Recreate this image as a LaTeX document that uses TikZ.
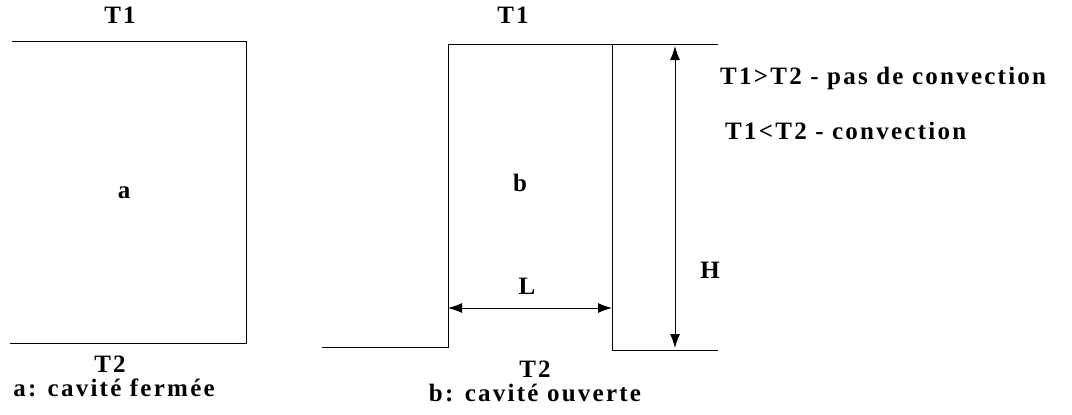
\documentclass[tikz,border=0pt]{standalone}
\usepackage{fontspec}
\setmainfont{Liberation Serif}
\usetikzlibrary{arrows.meta}
\tikzset{
  paroi/.style={line width=1pt},
  cote/.style={line width=1pt,{Latex[length=14pt,width=10pt]}-{Latex[length=14pt,width=10pt]}},
  etiq/.style={font=\bfseries\fontsize{25}{29}\selectfont\addfontfeature{LetterSpace=9}, inner sep=0pt}
}
\begin{document}
\begin{tikzpicture}[x=1pt,y=-1pt]
  \useasboundingbox (0,0) rectangle (1072,415);
  % Cavite fermee
  \coordinate (a1) at (12,41);
  \coordinate (a2) at (246,41);
  \coordinate (a3) at (246,343);
  \coordinate (a4) at (10,343);
  \draw[paroi] (a1) -- (a2) -- (a3) -- (a4);
  \node[etiq] (aT1) at (120,15) {T1};
  \node[etiq] (aa) at (124,193) {a};
  \node[etiq] (aT2) at (110,364) {T2};
  \node[etiq] (acap) at (114,388) {a: cavité fermée};

  % Cavite ouverte
  \coordinate (b0) at (322,347);
  \coordinate (b1) at (448,347);
  \coordinate (b2) at (448,44);
  \coordinate (b3) at (718,44);
  \coordinate (b4) at (612,44);
  \coordinate (b5) at (612,350);
  \coordinate (b6) at (718,350);
  \draw[paroi] (b0) -- (b1) -- (b2) -- (b3);
  \draw[paroi] (b4) -- (b5) -- (b6);
  \node[etiq] (bT1) at (513,15) {T1};
  \node[etiq] (bb) at (520,183) {b};
  \node[etiq] (bT2) at (535,369) {T2};
  \node[etiq] (bcap) at (535,393) {b: cavité ouverte};

  % Cotes L et H
  \coordinate (Lg) at (448,308);
  \coordinate (Ld) at (612,308);
  \draw[cote] (Lg) -- (Ld);
  \node[etiq] (L) at (527,286) {L};
  \coordinate (Hh) at (675,46);
  \coordinate (Hb) at (675,348);
  \draw[cote] (Hh) -- (Hb);
  \node[etiq] (H) at (710,270) {H};

  % Commentaires
  \node[etiq,anchor=west] (c1) at (720,78) {T1>T2 - pas de convection};
  \node[etiq,anchor=west] (c2) at (725,131) {T1<T2 - convection};
\end{tikzpicture}
\end{document}
